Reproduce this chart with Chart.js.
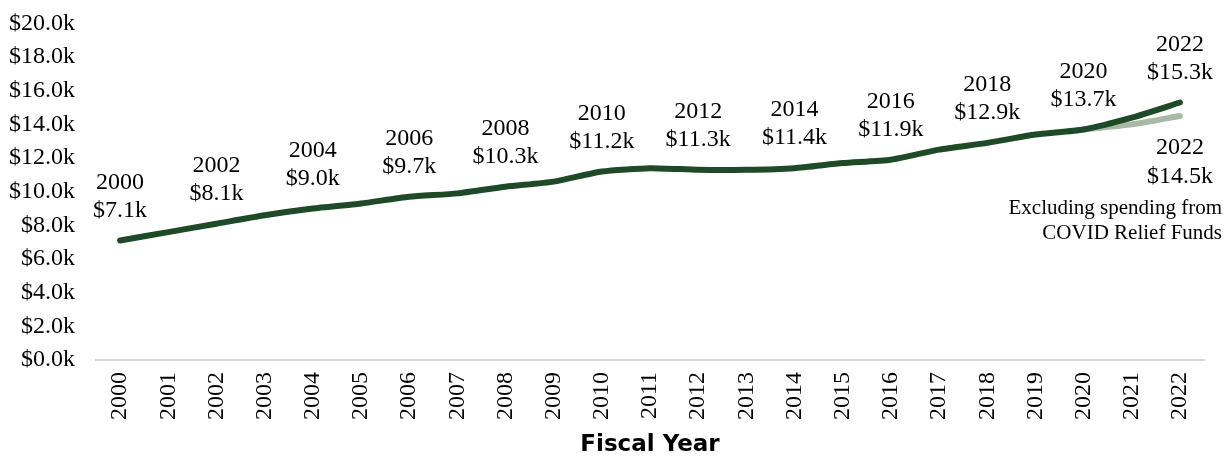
<!DOCTYPE html>
<html>
<head>
<meta charset="utf-8">
<script src="https://cdn.jsdelivr.net/npm/chart.js@4.4.0/dist/chart.umd.min.js"></script>
<style>
  html, body { margin: 0; padding: 0; background: #fff; }
  #wrap { width: 1230px; height: 459px; position: relative; }
</style>
</head>
<body>
<div id="wrap"><canvas id="grafico"></canvas></div>
<script>
// dados do gráfico (em milhares de dólares)
const anos = ['2000','2001','2002','2003','2004','2005','2006','2007','2008','2009','2010','2011',
              '2012','2013','2014','2015','2016','2017','2018','2019','2020','2021','2022'];
const gastoTotal = [7.1, 7.6, 8.1, 8.6, 9.0, 9.3, 9.7, 9.9, 10.3, 10.6, 11.2, 11.4,
                    11.3, 11.3, 11.4, 11.7, 11.9, 12.5, 12.9, 13.4, 13.7, 14.4, 15.3];
const gastoSemCovid = [null, null, null, null, null, null, null, null, null, null, null, null,
                       null, null, null, null, null, null, null, null, 13.7, 14.0, 14.5];
const yTicks = [0, 2, 4, 6, 8, 10, 12, 14, 16, 18, 20];
const notaCovid = ['Excluding spending from', 'COVID Relief Funds'];

const serif = '"Liberation Serif", "Times New Roman", serif';
const fmt = v => '$' + v.toFixed(1) + 'k';

// rótulos de dados: ano + valor acima dos pontos pares
const rotulos = {
    id: 'rotulos',
    afterDatasetsDraw(chart) {
        const ctx = chart.ctx;
        const xs = chart.scales.x, ys = chart.scales.y;
        ctx.save();
        ctx.fillStyle = '#000';
        ctx.font = '24px ' + serif;
        ctx.textAlign = 'center';
        ctx.textBaseline = 'middle';
        gastoTotal.forEach((v, i) => {
            if (i % 2 !== 0) return;
            const x = xs.getPixelForValue(i);
            const y = ys.getPixelForValue(v);
            ctx.fillText(fmt(v), x, y - 30);
            ctx.fillText(anos[i], x, y - 58);
        });
        // rótulo da série sem COVID, abaixo do ponto
        const ult = gastoSemCovid.length - 1;
        const x2 = xs.getPixelForValue(ult);
        const y2 = ys.getPixelForValue(gastoSemCovid[ult]);
        ctx.fillText(anos[ult], x2, y2 + 32);
        ctx.fillText(fmt(gastoSemCovid[ult]), x2, y2 + 61);
        ctx.font = '21px ' + serif;
        ctx.textAlign = 'right';
        ctx.fillText(notaCovid[0], 1222, y2 + 93);
        ctx.fillText(notaCovid[1], 1222, y2 + 118);
        ctx.restore();
    }
};

const ctx = document.getElementById('grafico').getContext('2d');
new Chart(ctx, {
    type: 'line',
    data: {
        labels: anos,
        datasets: [
            {
                label: 'Excluding COVID Relief Funds',
                data: gastoSemCovid,
                borderColor: '#a8b9a6',
                borderWidth: 6,
                pointRadius: 0,
                tension: 0.2,
                borderCapStyle: 'round',
                order: 2
            },
            {
                label: 'Total',
                data: gastoTotal,
                borderColor: '#1f4a28',
                borderWidth: 6,
                pointRadius: 0,
                tension: 0.2,
                borderCapStyle: 'round',
                order: 1
            }
        ]
    },
    options: {
        responsive: true,
        maintainAspectRatio: false,
        animation: false,
        layout: { padding: { top: 0, right: 26, left: 4, bottom: 0 } },
        plugins: { legend: { display: false }, tooltip: { enabled: false } },
        scales: {
            x: {
                offset: true,
                grid: { display: false, drawTicks: false },
                border: { color: '#d9d9d9', width: 2 },
                afterFit(scale) { scale.height = 99; },
                ticks: {
                    color: '#000',
                    font: { family: serif, size: 24 },
                    minRotation: 90,
                    maxRotation: 90,
                    padding: 12,
                    autoSkip: false
                },
                title: {
                    display: true,
                    text: 'Fiscal Year',
                    color: '#000',
                    font: { family: '"DejaVu Sans", sans-serif', size: 23, weight: 'bold' },
                    padding: { top: 0, bottom: 0 }
                }
            },
            y: {
                min: 0,
                max: 20,
                grid: { display: false, drawTicks: false },
                border: { display: false },
                afterBuildTicks(scale) { scale.ticks = yTicks.map(v => ({ value: v })); },
                afterFit(scale) { scale.width = 92; },
                ticks: {
                    color: '#000',
                    font: { family: serif, size: 24, lineHeight: 0.2 },
                    padding: 21,
                    callback: v => fmt(v)
                }
            }
        }
    },
    plugins: [rotulos]
});
</script>
</body>
</html>
